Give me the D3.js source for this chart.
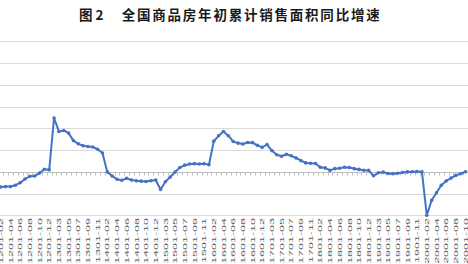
<!DOCTYPE html>
<html><head><meta charset="utf-8">
<script src="https://cdn.jsdelivr.net/npm/d3@7"></script>
<style>html,body{margin:0;padding:0;background:#fff;overflow:hidden}</style>
</head><body>
<svg id="c" width="468" height="264"></svg>
<script>
const years = ["12","13","14","15","16","17","18","19","20"];
const months = ["02","03","04","05","06","07","08","09","10","11","12"];
const v2012 = [-14.0,-13.6,-13.6,-12.4,-10.0,-6.6,-4.1,-3.8,-1.2,2.4,1.8];
const v2013 = [49.5,37.1,38.0,35.6,28.7,25.8,23.9,23.3,22.8,20.8,17.3];
const v2014 = [-0.1,-3.8,-6.9,-7.8,-6.0,-7.6,-8.3,-8.6,-8.9,-8.2,-7.6];
const v2015 = [-16.3,-9.2,-4.8,-0.2,3.9,6.1,7.2,7.5,7.2,7.4,6.5];
const v2016 = [28.2,33.1,37.0,33.2,27.9,26.4,25.5,26.9,26.8,24.3,22.5];
const v2017 = [25.1,19.5,15.7,14.3,16.1,14.7,12.7,10.3,8.2,7.9,7.7];
const v2018 = [4.1,3.6,1.3,2.9,3.3,4.2,4.0,2.9,2.2,1.4,1.3];
const v2019 = [-3.6,-0.9,-0.3,-1.6,-1.8,-1.3,-0.6,-0.1,0.1,0.2,-0.1];
const v2020 = [-39.9,-26.3,-19.3,-12.3,-8.4,-5.8,-3.3,-1.8,0.0];
const yTicks = [-40,-20,0,20,40,60,80,100,120];
const titleNum = "图 2";
const titleText = "全国商品房年初累计销售面积同比增速";

const seriesByYear = [v2012,v2013,v2014,v2015,v2016,v2017,v2018,v2019,v2020];
const data = [];
seriesByYear.forEach((arr, yi) => arr.forEach((v, mi) => {
  data.push({cat: years[yi] + "01-" + months[mi], value: v});
}));
const categories = data.map(d => d.cat);

const svg = d3.select("#c");
const x = d3.scalePoint().domain(categories).range([0.8, 465.5]);
const y = d3.scaleLinear().domain([-40, 120]).range([215.3, 41.3]);
const step = x.step();

// title
svg.append("text").attr("x", 79).attr("y", 19.5)
  .attr("font-family", "Noto Sans CJK SC").attr("font-weight", "bold")
  .attr("font-size", 13.5).attr("fill", "#1a1a1a").text(titleNum);
svg.append("text").attr("x", 121.7).attr("y", 19.5)
  .attr("font-family", "Noto Sans CJK SC").attr("font-weight", "bold")
  .attr("font-size", 13.5).attr("fill", "#1a1a1a")
  .attr("textLength", 258).attr("lengthAdjust", "spacing").text(titleText);

// gridlines
const grid = svg.append("g");
grid.selectAll("line").data(yTicks.filter(t => t !== 0)).join("line")
  .attr("x1", 0).attr("x2", 468)
  .attr("y1", d => Math.round(y(d)) + 0.5).attr("y2", d => Math.round(y(d)) + 0.5)
  .attr("stroke", "#d9d9d9").attr("stroke-width", 1);

// zero axis with ticks between categories
const y0 = Math.round(y(0)) + 0.5;
svg.append("line").attr("x1", 0).attr("x2", 468).attr("y1", y0).attr("y2", y0)
  .attr("stroke", "#bfbfbf").attr("stroke-width", 1);
const bounds = categories.map(c => x(c) - step / 2).concat([x(categories[categories.length-1]) + step/2]);
svg.append("g").selectAll("line").data(bounds).join("line")
  .attr("x1", d => Math.round(d) + 0.5).attr("x2", d => Math.round(d) + 0.5)
  .attr("y1", y0).attr("y2", y0 + 3)
  .attr("stroke", "#bfbfbf").attr("stroke-width", 1);

// category labels (every other)
svg.append("g").selectAll("text").data(categories.filter((c, i) => i % 2 === 0)).join("text")
  .attr("transform", d => `translate(${x(d)},218) rotate(-90) scale(1,0.5)`)
  .attr("text-anchor", "end").attr("dy", "0.35em")
  .attr("font-family", "Liberation Sans, Arial, sans-serif").attr("font-size", 12.5)
  .attr("fill", "#595959").text(d => d);

// line
const line = d3.line().x(d => x(d.cat)).y(d => y(d.value));
svg.append("path").datum(data).attr("d", line)
  .attr("fill", "none").attr("stroke", "#4472C4").attr("stroke-width", 2)
  .attr("stroke-linejoin", "round");
svg.append("g").selectAll("circle").data(data).join("circle")
  .attr("cx", d => x(d.cat)).attr("cy", d => y(d.value)).attr("r", 1.8)
  .attr("fill", "#4472C4");
</script>
</body></html>
